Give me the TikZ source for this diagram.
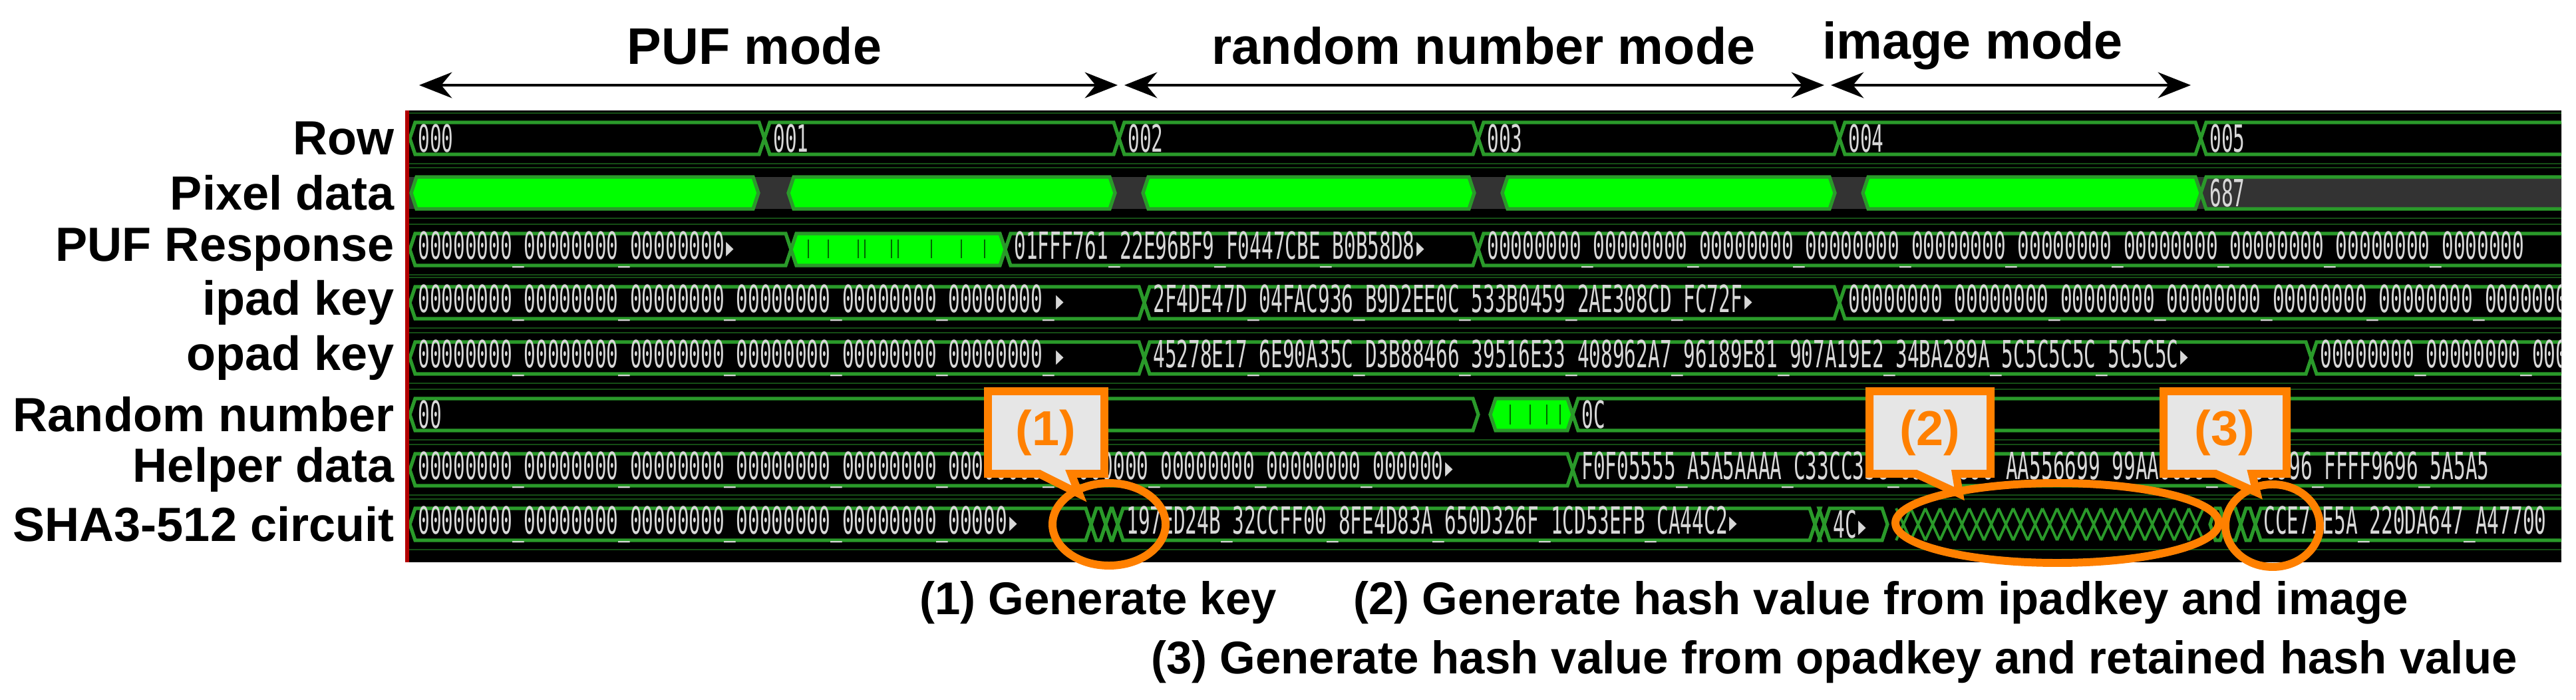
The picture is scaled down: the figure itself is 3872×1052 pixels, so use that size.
\documentclass[tikz,border=0pt]{standalone}
\usepackage{fontspec}
\setmainfont{Liberation Sans}
\newfontfamily\wavefont{DejaVu Sans Mono}
\usetikzlibrary{arrows.meta,calc}
\definecolor{busg}{HTML}{2A9A2A}
\definecolor{brightg}{HTML}{00FF00}
\definecolor{orng}{HTML}{FF8000}
\definecolor{wtxt}{HTML}{D8D8D8}
\definecolor{gfill}{HTML}{E6E6E6}
\newcommand\busseg[4][black]{% [fill]{y}{x1}{x2}
  \draw[bus,fill=#1] (#3,#2) -- ({#3+8},{#2-24}) -- ({#4-8},{#2-24}) -- (#4,#2) -- ({#4-8},{#2+24}) -- ({#3+8},{#2+24}) -- cycle;}
\tikzset{
  bus/.style={draw=busg,line width=1.5pt},
  lab/.style={anchor=east,font=\fontsize{20.5}{24}\selectfont\bfseries},
  wv/.style={anchor=west,text=wtxt,font=\fontsize{16}{18}\wavefont,xscale=0.523,inner sep=0pt},
  hdr/.style={font=\fontsize{22}{26}\selectfont\bfseries},
  modearrow/.style={{Stealth[length=14pt,width=11pt]}-{Stealth[length=14pt,width=11pt]},line width=1.3pt},
  call/.style={draw=orng,line width=3.4pt,fill=gfill},
  callt/.style={text=orng,font=\fontsize{21}{24}\selectfont\bfseries},
  ring/.style={draw=orng,line width=3.4pt},
  note/.style={anchor=west,font=\fontsize{19.6}{23}\selectfont\bfseries}
}
\begin{document}
\begin{tikzpicture}[x=0.01cm,y=-0.01cm]
\useasboundingbox (0,0) rectangle (3872,1052);
% header
\coordinate (p1) at (630,128); \coordinate (p2) at (1680,128);
\coordinate (r1) at (1690,128); \coordinate (r2) at (2742,128);
\coordinate (i1) at (2752,128); \coordinate (i2) at (3293,128);
\draw[modearrow] (p1) -- (p2);
\draw[modearrow] (r1) -- (r2);
\draw[modearrow] (i1) -- (i2);
\node[hdr] (hpuf) at (1134,69) {PUF mode};
\node[hdr] (hrnd) at (2230,69) {random number mode};
\node[hdr] (himg) at (2965,69) {image mode};
% labels
\node[lab] (lrow) at (605,208) {Row};
\node[lab] (lpix) at (605,290) {Pixel data};
\node[lab] (lpuf) at (605,375) {PUF Response};
\node[lab] (lipad) at (605,455) {ipad key};
\node[lab] (lopad) at (605,538) {opad key};
\node[lab] (lrn) at (605,623) {Random number};
\node[lab] (lhd) at (605,706) {Helper data};
\node[lab] (lsha) at (605,788) {SHA3-512 circuit};
% panel
\fill[black] (612,166) rectangle (3850,845);
\begin{scope}
\clip (612,166) rectangle (3850,845);
\foreach \y in {208,290,375,455,538,623,706,788}{
  \draw[busg!50!black,line width=0.8pt] (612,{\y-38}) -- (3850,{\y-38});
  \draw[busg!50!black,line width=0.8pt] (612,{\y+38}) -- (3850,{\y+38});}
% Row
\busseg{208}{616}{1149}\busseg{208}{1149}{1682}\busseg{208}{1682}{2222}
\busseg{208}{2222}{2765}\busseg{208}{2765}{3308}\busseg{208}{3308}{3900}
\node[wv] (t000) at (628,208) {000};
\node[wv] (t001) at (1162,208) {001};
\node[wv] (t002) at (1695,208) {002};
\node[wv] (t003) at (2235,208) {003};
\node[wv] (t004) at (2778,208) {004};
\node[wv] (t005) at (3321,208) {005};
% Pixel data
\fill[gray!40!black] (612,266) rectangle (3850,314);
\busseg[brightg]{290}{618}{1140}\busseg[brightg]{290}{1185}{1676}
\busseg[brightg]{290}{1718}{2216}\busseg[brightg]{290}{2258}{2758}
\busseg[brightg]{290}{2800}{3308}\busseg[gray!40!black]{290}{3308}{3900}
\node[wv] (t687) at (3321,290) {687};
% PUF response
\busseg{375}{616}{1189}\busseg[brightg]{375}{1189}{1511}\busseg{375}{1511}{2222}\busseg{375}{2222}{3900}
\foreach \x in {1215,1245,1290,1300,1340,1350,1400,1445,1480}{\draw[black!60!green,line width=0.8pt] (\x,360) -- (\x,388);}
\node[wv] (tp1) at (628,375) {00000000\_00000000\_00000000▸};
\node[wv] (tp2) at (1524,375) {01FFF761\_22E96BF9\_F0447CBE\_B0B58D8▸};
\node[wv] (tp3) at (2235,375) {00000000\_00000000\_00000000\_00000000\_00000000\_00000000\_00000000\_00000000\_00000000\_0000000};
% ipad
\busseg{455}{616}{1720}\busseg{455}{1720}{2765}\busseg{455}{2765}{3900}
\node[wv] (ti1) at (628,455) {00000000\_00000000\_00000000\_00000000\_00000000\_00000000\_▸};
\node[wv] (ti2) at (1733,455) {2F4DE47D\_04FAC936\_B9D2EE0C\_533B0459\_2AE308CD\_FC72F▸};
\node[wv] (ti3) at (2778,455) {00000000\_00000000\_00000000\_00000000\_00000000\_00000000\_0000000};
% opad
\busseg{538}{616}{1720}\busseg{538}{1720}{3474}\busseg{538}{3474}{3900}
\node[wv] (to1) at (628,538) {00000000\_00000000\_00000000\_00000000\_00000000\_00000000\_▸};
\node[wv] (to2) at (1733,538) {45278E17\_6E90A35C\_D3B88466\_39516E33\_408962A7\_96189E81\_907A19E2\_34BA289A\_5C5C5C5C\_5C5C5C▸};
\node[wv] (to3) at (3487,538) {00000000\_00000000\_0000};
% random number
\busseg{623}{616}{2222}\busseg[brightg]{623}{2240}{2364}\busseg{623}{2364}{3900}
\foreach \x in {2270,2300,2325,2345}{\draw[black!60!green,line width=0.8pt] (\x,608) -- (\x,638);}
\node[wv] (tr1) at (628,623) {00};
\node[wv] (tr2) at (2377,623) {0C};
% helper data
\busseg{706}{616}{2364}\busseg{706}{2364}{3900}
\node[wv] (th1) at (628,706) {00000000\_00000000\_00000000\_00000000\_00000000\_00000000\_00000000\_00000000\_00000000\_000000▸};
\node[wv] (th2) at (2377,706) {F0F05555\_A5A5AAAA\_C33CC33C\_69966996\_AA556699\_99AA6699\_69696996\_FFFF9696\_5A5A5};
% SHA
\busseg{788}{616}{1640}\busseg{788}{1640}{1662}\busseg{788}{1662}{1680}\busseg{788}{1680}{2728}
\busseg{788}{2728}{2742}\busseg{788}{2742}{2837}
\foreach \x in {2850,2872,...,3290}{\draw[busg,line width=1.1pt] (\x,764) -- ({\x+22},812) (\x,812) -- ({\x+22},764);}
\busseg{788}{3322}{3345}\busseg{788}{3345}{3368}\busseg{788}{3368}{3390}\busseg{788}{3390}{3900}
\node[wv] (ts1) at (628,788) {00000000\_00000000\_00000000\_00000000\_00000000\_00000▸};
\node[wv] (ts2) at (1693,788) {197ED24B\_32CCFF00\_8FE4D83A\_650D326F\_1CD53EFB\_CA44C2▸};
\node[wv] (ts3) at (2755,788) {4C▸};
\node[wv] (ts4) at (3402,788) {CCE71E5A\_220DA647\_A47700};
\end{scope}
\draw[red!70!black,line width=1.5pt] (612,166) -- (612,845);
% callouts
\draw[ring] (1667,788) ellipse [x radius=85,y radius=62];
\draw[ring] (3092,786) ellipse [x radius=243,y radius=60];
\draw[ring] (3416,790) ellipse [x radius=71,y radius=62];
\draw[call] (1485,588) -- (1660,588) -- (1660,712) -- (1610,712) -- (1622,742) -- (1562,712) -- (1485,712) -- cycle;
\draw[call] (2810,588) -- (2992,588) -- (2992,712) -- (2940,712) -- (2945,742) -- (2880,712) -- (2810,712) -- cycle;
\draw[call] (3252,588) -- (3437,588) -- (3437,712) -- (3385,712) -- (3392,740) -- (3330,712) -- (3252,712) -- cycle;
\node[callt] (c1) at (1572,650) {(1)};
\node[callt] (c2) at (2901,650) {(2)};
\node[callt] (c3) at (3344,650) {(3)};
% notes
\node[note] (n1) at (1370,906) {(1) Generate key};
\node[note] (n2) at (2022,906) {(2) Generate hash value from ipadkey and image};
\node[note] (n3) at (1718,995) {(3) Generate hash value from opadkey and retained hash value};
\end{tikzpicture}
\end{document}
